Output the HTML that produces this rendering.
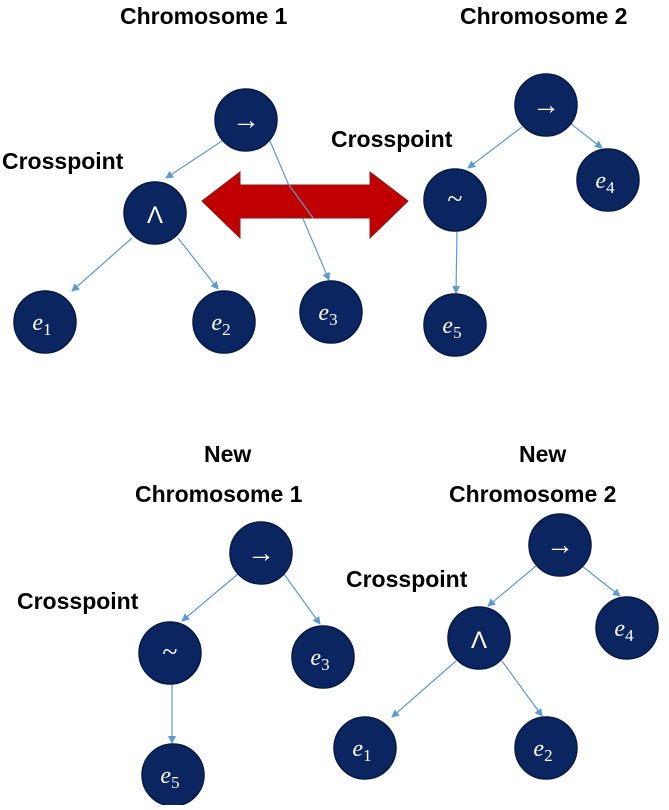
<!DOCTYPE html>
<html><head><style>body{margin:0;background:#fff}</style></head><body>
<svg width="669" height="805" xmlns="http://www.w3.org/2000/svg" font-family="Liberation Sans, sans-serif">
<defs><marker id="a" markerWidth="8" markerHeight="8" refX="7" refY="4" orient="auto" markerUnits="userSpaceOnUse"><path d="M0,0 L8,4 L0,8 z" fill="#5b9bd5"/></marker></defs>
<g stroke="#5b9bd5" stroke-width="1.2" marker-end="url(#a)">
<line x1="222" y1="141" x2="166" y2="178"/>
<line x1="270" y1="141" x2="329" y2="280"/>
<line x1="132" y1="238" x2="72" y2="291"/>
<line x1="178" y1="238" x2="218" y2="289"/>
<line x1="522" y1="127" x2="468" y2="168"/>
<line x1="566" y1="120" x2="602" y2="148"/>
<line x1="457" y1="230" x2="456" y2="293"/>
<line x1="238" y1="574" x2="182" y2="621"/>
<line x1="284" y1="574" x2="320" y2="624"/>
<line x1="172" y1="683" x2="172" y2="743"/>
<line x1="536" y1="566" x2="488" y2="606"/>
<line x1="582" y1="566" x2="620" y2="596"/>
<line x1="456" y1="661" x2="392" y2="717"/>
<line x1="502" y1="661" x2="542" y2="716"/>
</g>
<path d="M202,201 L240,172 L240,185 L370,185 L370,172 L408,201 L370,238 L370,218 L240,218 L240,238 Z" fill="#c00000" stroke="#8b1a1a" stroke-width="1"/>
<line x1="289" y1="185" x2="313" y2="218" stroke="#5b9bd5" stroke-width="1.2"/>
<g fill="#0b2560" stroke="#071a45" stroke-width="1.5">
<circle cx="246" cy="120" r="31"/><circle cx="155" cy="213" r="31"/><circle cx="45" cy="322" r="31"/><circle cx="224" cy="322" r="31"/><circle cx="331" cy="312" r="31"/>
<circle cx="546" cy="105" r="31"/><circle cx="455" cy="200" r="31"/><circle cx="608" cy="180" r="31"/><circle cx="455" cy="325" r="31"/>
<circle cx="261" cy="553" r="31"/><circle cx="170" cy="653" r="31"/><circle cx="323" cy="657" r="31"/><circle cx="173" cy="775" r="31"/>
<circle cx="560" cy="545" r="31"/><circle cx="479" cy="638" r="31"/><circle cx="627" cy="628" r="31"/><circle cx="365" cy="748" r="31"/><circle cx="546" cy="748" r="31"/>
</g>
<g fill="#fff" font-family="Liberation Serif, serif" font-size="24" text-anchor="middle">
<text x="246" y="129" font-size="28">→</text><text x="155" y="223" font-family="Liberation Sans">Λ</text>
<text x="42" y="330" font-style="italic">e<tspan font-style="normal" font-size="17" dy="5">1</tspan></text>
<text x="221" y="330" font-style="italic">e<tspan font-style="normal" font-size="17" dy="5">2</tspan></text>
<text x="328" y="320" font-style="italic">e<tspan font-style="normal" font-size="17" dy="5">3</tspan></text>
<text x="546" y="114" font-size="28">→</text><text x="455" y="208" font-size="28">~</text>
<text x="605" y="188" font-style="italic">e<tspan font-style="normal" font-size="17" dy="5">4</tspan></text>
<text x="452" y="333" font-style="italic">e<tspan font-style="normal" font-size="17" dy="5">5</tspan></text>
<text x="261" y="562" font-size="28">→</text><text x="170" y="661" font-size="28">~</text>
<text x="320" y="665" font-style="italic">e<tspan font-style="normal" font-size="17" dy="5">3</tspan></text>
<text x="170" y="783" font-style="italic">e<tspan font-style="normal" font-size="17" dy="5">5</tspan></text>
<text x="560" y="554" font-size="28">→</text><text x="479" y="648" font-family="Liberation Sans">Λ</text>
<text x="624" y="636" font-style="italic">e<tspan font-style="normal" font-size="17" dy="5">4</tspan></text>
<text x="362" y="756" font-style="italic">e<tspan font-style="normal" font-size="17" dy="5">1</tspan></text>
<text x="543" y="756" font-style="italic">e<tspan font-style="normal" font-size="17" dy="5">2</tspan></text>
</g>
<g fill="#000" font-weight="bold" font-size="23">
<text x="120" y="24">Chromosome 1</text>
<text x="460" y="24">Chromosome 2</text>
<text x="2" y="169">Crosspoint</text>
<text x="331" y="147">Crosspoint</text>
<text x="204" y="462">New</text>
<text x="135" y="502">Chromosome 1</text>
<text x="519" y="462">New</text>
<text x="449" y="502">Chromosome 2</text>
<text x="17" y="609">Crosspoint</text>
<text x="346" y="587">Crosspoint</text>
</g>
</svg>
</body></html>
